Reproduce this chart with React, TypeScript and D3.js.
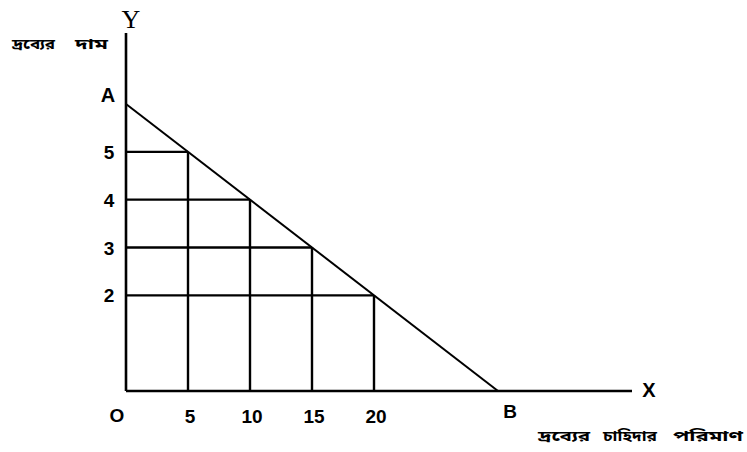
import React from "react";
import * as d3 from "d3";

const quantities = [5, 10, 15, 20];
const prices = [5, 4, 3, 2];
const xTickLabels = ["5", "10", "15", "20"];
const yTickLabels = ["5", "4", "3", "2"];
const interceptA = 6;
const interceptB = 30;
const yAxisTitle = "দ্রব্যের দাম";
const xAxisTitle = "দ্রব্যের চাহিদার পরিমাণ";

export default function App() {
  const W = 747, H = 452;
  const x = d3.scaleLinear().domain([0, 30]).range([126, 498]);
  const y = d3.scaleLinear().domain([0, 6]).range([391, 104]);
  const line = d3.line<[number, number]>().x(d => x(d[0])).y(d => y(d[1]));
  const sans = "'Liberation Sans', Arial, sans-serif";
  const bn = "'Noto Sans Bengali', 'Noto Sans', sans-serif";
  const yWords = yAxisTitle.split(" ");
  const xWords = xAxisTitle.split(" ");
  const yWordPos = [[12, 43], [75, 33]];
  const xWordPos = [[538, 52], [603, 54], [673, 70]];
  return (
    <svg width={W} height={H} style={{ position: "absolute", left: 0, top: 0, background: "#fff" }}>
      {/* axes */}
      <line x1={x(0)} y1={33} x2={x(0)} y2={y(0)} stroke="#000" strokeWidth={2.6} />
      <line x1={x(0)} y1={y(0)} x2={632} y2={y(0)} stroke="#000" strokeWidth={2.6} />
      {/* grid segments */}
      {quantities.map((q, i) => (
        <g key={i}>
          <line x1={x(0)} y1={y(prices[i])} x2={x(q)} y2={y(prices[i])} stroke="#000" strokeWidth={2.4} />
          <line x1={x(q)} y1={y(0)} x2={x(q)} y2={y(prices[i])} stroke="#000" strokeWidth={2.4} />
        </g>
      ))}
      {/* demand line */}
      <path d={line([[0, interceptA], [interceptB, 0]]) || ""} stroke="#000" strokeWidth={2} fill="none" />
      {/* labels */}
      <text x={131} y={28} fontFamily="'Liberation Serif', serif" fontSize={26} textAnchor="middle">Y</text>
      <text x={649} y={397} fontFamily={sans} fontWeight="bold" fontSize={20} textAnchor="middle">X</text>
      <text x={108} y={102} fontFamily={sans} fontWeight="bold" fontSize={20} textAnchor="middle">A</text>
      <text x={510} y={418} fontFamily={sans} fontWeight="bold" fontSize={19} textAnchor="middle">B</text>
      <text x={117} y={422} fontFamily={sans} fontWeight="bold" fontSize={19} textAnchor="middle">O</text>
      {quantities.map((q, i) => (
        <text key={i} x={x(q) + 2} y={423} fontFamily={sans} fontWeight="bold" fontSize={19} textAnchor="middle">{xTickLabels[i]}</text>
      ))}
      {prices.map((p, i) => (
        <text key={i} x={109} y={y(p) + 7} fontFamily={sans} fontWeight="bold" fontSize={19} textAnchor="middle">{yTickLabels[i]}</text>
      ))}
      {yWords.map((w, i) => (
        <text key={i} x={yWordPos[i][0]} y={49} fontFamily={bn} fontWeight="bold" fontSize={14} textLength={yWordPos[i][1]} lengthAdjust="spacingAndGlyphs">{w}</text>
      ))}
      {xWords.map((w, i) => (
        <text key={i} x={xWordPos[i][0]} y={441} fontFamily={bn} fontWeight="bold" fontSize={14} textLength={xWordPos[i][1]} lengthAdjust="spacingAndGlyphs">{w}</text>
      ))}
    </svg>
  );
}
